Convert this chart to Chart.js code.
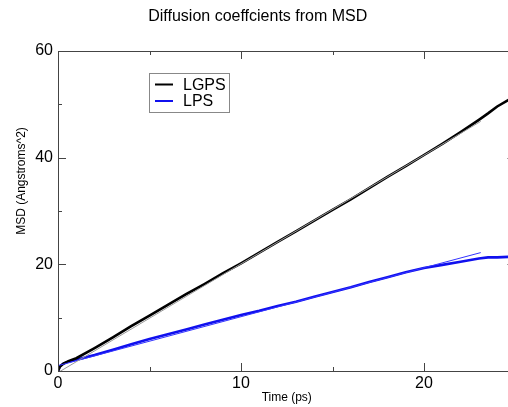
<!DOCTYPE html>
<html>
<head>
<meta charset="utf-8">
<script src="https://cdn.jsdelivr.net/npm/chart.js@4.4.1/dist/chart.umd.min.js"></script>
<style>
  html, body { margin: 0; padding: 0; background: #fff; overflow: hidden; width: 508px; height: 407px; }
  #wrap { position: relative; width: 518px; height: 407px; }
</style>
</head>
<body>
<div id="wrap"><canvas id="c"></canvas></div>
<script>
// ---- data ----
const timePs  = [0, 0.1, 0.3, 0.6, 1, 2, 3, 4, 5, 6, 7, 8, 9, 10, 11, 12, 13, 14, 15, 16, 17, 18, 19, 20, 21, 22, 23, 23.5, 24, 24.6, 25];
const lgpsMsd = [0, 0.8, 1.4, 1.9, 2.4, 4.3, 6.3, 8.4, 10.4, 12.4, 14.4, 16.3, 18.3, 20.2, 22.2, 24.2, 26.2, 28.2, 30.2, 32.2, 34.3, 36.4, 38.4, 40.5, 42.6, 44.8, 47.1, 48.3, 49.6, 50.8, 51.6];
const lpsMsd  = [0, 0.9, 1.4, 1.8, 2.1, 3.0, 4.0, 5.0, 6.0, 6.9, 7.8, 8.7, 9.6, 10.5, 11.3, 12.2, 13.0, 13.9, 14.8, 15.7, 16.7, 17.6, 18.5, 19.3, 19.9, 20.5, 21.1, 21.3, 21.3, 21.4, 21.4];
const fitTime    = [0, 23.1];
const lgpsFitMsd = [-0.3, 46.8];
const lpsFitMsd  = [1.0, 22.2];
const seriesNames = ['LGPS', 'LPS'];
const xMajorTicks = [0, 10, 20];
const xMinorTicks = [5, 15, 25];
const yMajorTicks = [0, 20, 40, 60];
const yMinorTicks = [10, 30, 50];

const FONT = "'Liberation Sans', Arial, Helvetica, sans-serif";
const pts = (xs, ys) => xs.map((x, i) => ({x: x, y: ys[i]}));

const framePlugin = {
  id: 'frame',
  afterDatasetsDraw(chart) {
    const ctx = chart.ctx, a = chart.chartArea;
    const xs = chart.scales.x, ys = chart.scales.y;
    ctx.save();
    ctx.strokeStyle = '#444';
    ctx.lineWidth = 1;
    ctx.strokeRect(Math.round(a.left) + 0.5, Math.round(a.top) + 0.5,
                   Math.round(a.right - a.left), Math.round(a.bottom - a.top));
    ctx.beginPath();
    const tick = (vals, len) => {
      vals.forEach(v => {
        const px = Math.round(xs.getPixelForValue(v)) + 0.5;
        ctx.moveTo(px, a.bottom); ctx.lineTo(px, a.bottom - len);
        ctx.moveTo(px, a.top); ctx.lineTo(px, a.top + len);
      });
    };
    const ytick = (vals, len) => {
      vals.forEach(v => {
        const py = Math.round(ys.getPixelForValue(v)) + 0.5;
        ctx.moveTo(a.left, py); ctx.lineTo(a.left + len, py);
        ctx.moveTo(a.right, py); ctx.lineTo(a.right - len, py);
      });
    };
    tick(xMajorTicks, 8); tick(xMinorTicks, 4);
    ytick(yMajorTicks, 8); ytick(yMinorTicks, 4);
    ctx.stroke();

    // legend box
    const lx = a.left + 91, ly = a.top + 22, lw = 80, lh = 39;
    ctx.strokeStyle = '#888';
    ctx.strokeRect(lx + 0.5, ly + 0.5, lw, lh);
    ctx.font = '16px ' + FONT;
    ctx.textBaseline = 'middle';
    ctx.textAlign = 'left';
    [0, 1].forEach(i => {
      const ds = chart.data.datasets[i];
      const yy = ly + 11.5 + i * 16.5;
      ctx.strokeStyle = ds.borderColor;
      ctx.lineWidth = 2;
      ctx.beginPath(); ctx.moveTo(lx + 6, yy); ctx.lineTo(lx + 24, yy); ctx.stroke();
      ctx.fillStyle = '#000';
      ctx.fillText(ds.label, lx + 34, yy + 1);
    });

    // y axis title
    ctx.save();
    ctx.translate(22, 181);
    ctx.rotate(-Math.PI / 2);
    ctx.textAlign = 'center';
    ctx.textBaseline = 'middle';
    ctx.font = '12px ' + FONT;
    ctx.fillStyle = '#000';
    ctx.fillText('MSD (Angstroms^2)', 0, 0);
    ctx.restore();
    ctx.restore();
  }
};

new Chart(document.getElementById('c'), {
  type: 'line',
  data: {
    datasets: [
      { label: seriesNames[0], data: pts(timePs, lgpsMsd), borderColor: '#000', borderWidth: 2.6, pointRadius: 0, tension: 0, order: 2 },
      { label: seriesNames[1], data: pts(timePs, lpsMsd), borderColor: '#1010ee', borderWidth: 2.6, pointRadius: 0, tension: 0, order: 2 },
      { label: 'LGPS fit', data: pts(fitTime, lgpsFitMsd), borderColor: '#999', borderWidth: 1, pointRadius: 0, tension: 0, order: 1 },
      { label: 'LPS fit', data: pts(fitTime, lpsFitMsd), borderColor: '#3333ff', borderWidth: 1, pointRadius: 0, tension: 0, order: 1 }
    ]
  },
  options: {
    responsive: true,
    maintainAspectRatio: false,
    animation: false,
    devicePixelRatio: 1,
    layout: { padding: { left: 0, right: 2.5, top: 0, bottom: 0 } },
    plugins: {
      legend: { display: false },
      tooltip: { enabled: false },
      title: {
        display: true,
        text: 'Diffusion coeffcients from MSD',
        color: '#000',
        font: { family: FONT, size: 16, weight: 'normal' },
        padding: { top: 7, bottom: 24.8 }
      }
    },
    scales: {
      x: {
        type: 'linear', min: 0, max: 25,
        grid: { display: false, drawTicks: false },
        border: { display: false },
        ticks: { stepSize: 10, includeBounds: false, color: '#000', padding: 3, maxRotation: 0,
                 font: { family: FONT, size: 16 } },
        title: { display: true, text: 'Time (ps)', color: '#000', padding: { top: 0, bottom: 2 },
                 font: { family: FONT, size: 12 } },
        afterFit(s) { s.height = 36; }
      },
      y: {
        type: 'linear', min: 0, max: 60,
        grid: { display: false, drawTicks: false },
        border: { display: false },
        ticks: { stepSize: 20, color: '#000', padding: 5, font: { family: FONT, size: 16 } },
        afterFit(s) { s.width = 58; }
      }
    }
  },
  plugins: [framePlugin]
});
</script>
</body>
</html>
